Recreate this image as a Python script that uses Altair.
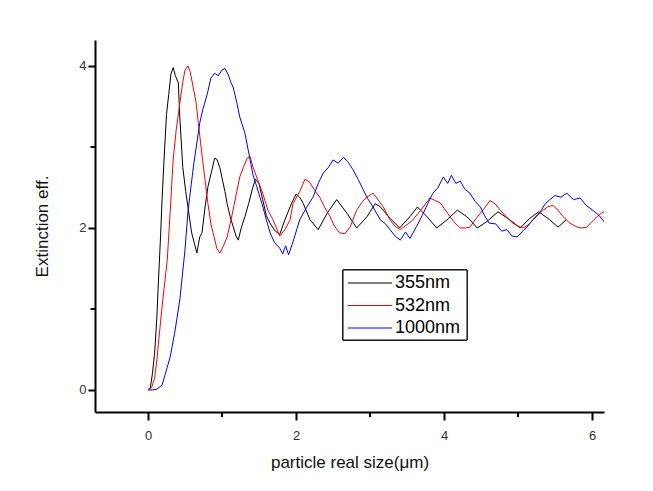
import altair as alt
import pandas as pd

# ---- data ----
x_355 = [0.0, 0.03, 0.06, 0.09, 0.12, 0.14, 0.17, 0.19, 0.22, 0.25, 0.28, 0.31, 0.34, 0.37, 0.41, 0.43,
         0.47, 0.51, 0.54, 0.59, 0.63, 0.66, 0.70, 0.73, 0.77, 0.81, 0.86, 0.90, 0.93, 0.97, 1.00, 1.04,
         1.07, 1.11, 1.15, 1.19, 1.22, 1.26, 1.31, 1.36, 1.41, 1.45, 1.50, 1.55, 1.60, 1.65, 1.71, 1.78,
         1.85, 1.92, 2.00, 2.05, 2.10, 2.19, 2.30, 2.42, 2.55, 2.69, 2.82, 2.96, 3.07, 3.14, 3.27, 3.40,
         3.54, 3.64, 3.77, 3.90, 4.04, 4.18, 4.31, 4.45, 4.58, 4.73, 4.89, 5.03, 5.16, 5.28, 5.43, 5.54, 5.65]
y_355 = [0.0, 0.02, 0.20, 0.46, 0.90, 1.32, 1.90, 2.35, 2.90, 3.40, 3.65, 3.90, 3.98, 3.88, 3.79, 3.37,
         2.75, 2.45, 2.26, 1.94, 1.80, 1.69, 1.89, 1.94, 2.25, 2.51, 2.70, 2.86, 2.85, 2.75, 2.62, 2.45,
         2.30, 2.14, 2.02, 1.90, 1.85, 2.00, 2.14, 2.30, 2.48, 2.60, 2.55, 2.35, 2.15, 2.06, 1.97, 1.92,
         2.10, 2.26, 2.42, 2.38, 2.30, 2.10, 1.98, 2.18, 2.35, 2.18, 2.00, 2.14, 2.30, 2.26, 2.12, 2.00,
         2.14, 2.26, 2.14, 2.00, 2.10, 2.22, 2.14, 2.00, 2.08, 2.20, 2.10, 2.00, 2.12, 2.20, 2.10, 2.01, 2.10]

x_532 = [0.0, 0.05, 0.09, 0.12, 0.16, 0.20, 0.26, 0.30, 0.34, 0.38, 0.43, 0.47, 0.50, 0.54, 0.57, 0.61,
         0.65, 0.68, 0.74, 0.77, 0.81, 0.85, 0.88, 0.93, 0.97, 1.02, 1.07, 1.11, 1.15, 1.20, 1.24, 1.29,
         1.34, 1.38, 1.42, 1.48, 1.55, 1.62, 1.69, 1.78, 1.85, 1.92, 1.96, 2.05, 2.12, 2.18, 2.25, 2.32,
         2.39, 2.46, 2.52, 2.59, 2.66, 2.73, 2.82, 2.90, 2.96, 3.04, 3.10, 3.18, 3.27, 3.34, 3.41, 3.50,
         3.58, 3.65, 3.72, 3.81, 3.88, 3.95, 4.02, 4.08, 4.15, 4.22, 4.29, 4.35, 4.42, 4.49, 4.56, 4.62,
         4.69, 4.76, 4.85, 4.93, 5.00, 5.07, 5.14, 5.20, 5.27, 5.34, 5.40, 5.47, 5.54, 5.61, 5.70, 5.80,
         5.86, 5.93, 6.00, 6.07, 6.15, 6.20]
y_532 = [0.0, 0.03, 0.15, 0.37, 0.75, 1.11, 1.60, 2.20, 2.84, 3.20, 3.54, 3.80, 3.95, 4.00, 3.93, 3.74,
         3.55, 3.30, 2.82, 2.60, 2.30, 2.05, 1.94, 1.75, 1.69, 1.78, 1.89, 2.05, 2.22, 2.45, 2.63, 2.75,
         2.86, 2.88, 2.75, 2.60, 2.43, 2.22, 2.10, 1.90, 1.98, 2.10, 2.30, 2.45, 2.60, 2.57, 2.47, 2.38,
         2.25, 2.14, 2.02, 1.94, 1.93, 2.01, 2.22, 2.33, 2.38, 2.43, 2.36, 2.26, 2.10, 2.02, 1.98, 2.04,
         2.10, 2.18, 2.26, 2.37, 2.34, 2.31, 2.22, 2.14, 2.06, 2.00, 2.00, 2.01, 2.10, 2.18, 2.26, 2.34,
         2.30, 2.22, 2.13, 2.06, 2.02, 2.00, 2.04, 2.10, 2.16, 2.22, 2.26, 2.28, 2.22, 2.14, 2.06, 2.01,
         2.00, 2.01, 2.08, 2.14, 2.20, 2.18]

x_1000 = [0.0, 0.06, 0.12, 0.19, 0.26, 0.30, 0.36, 0.43, 0.50, 0.54, 0.57, 0.62, 0.66, 0.70, 0.74, 0.80,
          0.85, 0.90, 0.95, 1.00, 1.04, 1.08, 1.12, 1.15, 1.20, 1.24, 1.31, 1.38, 1.42, 1.47, 1.54, 1.60,
          1.65, 1.71, 1.78, 1.82, 1.86, 1.90, 1.95, 2.00, 2.05, 2.14, 2.23, 2.30, 2.37, 2.44, 2.50, 2.57,
          2.64, 2.70, 2.77, 2.84, 2.91, 2.97, 3.04, 3.14, 3.21, 3.27, 3.34, 3.41, 3.48, 3.54, 3.63, 3.72,
          3.78, 3.85, 3.92, 3.99, 4.05, 4.10, 4.16, 4.22, 4.28, 4.35, 4.42, 4.49, 4.55, 4.61, 4.70, 4.78,
          4.85, 4.92, 4.99, 5.05, 5.12, 5.20, 5.30, 5.37, 5.43, 5.50, 5.58, 5.66, 5.75, 5.84, 5.92, 6.01,
          6.10, 6.18]
y_1000 = [0.0, 0.00, 0.01, 0.06, 0.28, 0.41, 0.70, 1.11, 1.73, 2.20, 2.43, 2.80, 3.05, 3.30, 3.46, 3.65,
          3.85, 3.91, 3.88, 3.95, 3.97, 3.90, 3.80, 3.74, 3.55, 3.37, 3.17, 2.84, 2.65, 2.51, 2.30, 2.10,
          1.94, 1.82, 1.75, 1.68, 1.78, 1.67, 1.80, 1.95, 2.10, 2.25, 2.38, 2.55, 2.68, 2.75, 2.84, 2.80,
          2.87, 2.82, 2.72, 2.60, 2.47, 2.36, 2.26, 2.10, 2.05, 1.98, 1.90, 1.85, 1.95, 1.87, 2.02, 2.18,
          2.30, 2.43, 2.50, 2.63, 2.55, 2.65, 2.55, 2.58, 2.48, 2.43, 2.33, 2.26, 2.15, 2.06, 2.05, 1.96,
          1.98, 1.90, 1.89, 1.95, 2.01, 2.10, 2.20, 2.30, 2.35, 2.40, 2.38, 2.43, 2.35, 2.37, 2.28, 2.22,
          2.15, 2.06]

series_names = ["355nm", "532nm", "1000nm"]
series_colors = ["#000000", "#ff0000", "#0000ff"]
x_major = [0, 2, 4, 6]
x_minor = [1, 3, 5]
y_major = [0, 2, 4]
y_minor = [1, 3]

rows = []
for name, xs, ys in [("355nm", x_355, y_355), ("532nm", x_532, y_532), ("1000nm", x_1000, y_1000)]:
    for i, (a, b) in enumerate(zip(xs, ys)):
        rows.append({"size": a, "eff": b, "series": name, "idx": i})
df = pd.DataFrame(rows)
legend_df = pd.DataFrame({"series": series_names})

FONT = "Liberation Sans"
xscale = alt.Scale(domain=[-0.716, 6.162], nice=False, zero=False)
yscale = alt.Scale(domain=[-0.272, 4.321], nice=False, zero=False)
cscale = alt.Scale(domain=series_names, range=series_colors)
xaxis = alt.Axis(values=x_major, format="d", title="particle real size(\u03bcm)",
                 tickSize=8, labelPadding=9, titlePadding=12)
yaxis = alt.Axis(values=y_major, format="d", title="Extinction eff.",
                 tickSize=7, labelPadding=2, titlePadding=27)

lines = alt.Chart(df).mark_line(strokeWidth=1, clip=True).encode(
    x=alt.X("size:Q", scale=xscale, axis=xaxis),
    y=alt.Y("eff:Q", scale=yscale, axis=yaxis),
    color=alt.Color("series:N", scale=cscale, legend=None),
    order="idx:Q",
)

minor_x = alt.Chart(pd.DataFrame({"size": x_minor})).mark_rule(color="black", strokeWidth=2).encode(
    x=alt.X("size:Q", scale=xscale, axis=xaxis), y=alt.value(372), y2=alt.value(377))
minor_y = alt.Chart(pd.DataFrame({"eff": y_minor})).mark_rule(color="black", strokeWidth=2).encode(
    y=alt.Y("eff:Q", scale=yscale, axis=None), x=alt.value(0), x2=alt.value(-4.5))

# legend box (top-left at plot coords 248,230)
leg_row = alt.Scale(type="point", domain=series_names, range=[243, 288], padding=0)
leg_box = alt.Chart(legend_df).mark_rect(fill="white", stroke="black", strokeWidth=1).encode(
    x=alt.value(248), x2=alt.value(372), y=alt.value(230), y2=alt.value(300))
leg_lines = alt.Chart(legend_df).mark_rule(strokeWidth=1).encode(
    x=alt.value(253), x2=alt.value(297),
    y=alt.Y("series:N", scale=leg_row, axis=None),
    color=alt.Color("series:N", scale=cscale, legend=None))
leg_text = alt.Chart(legend_df).mark_text(align="left", baseline="middle", fontSize=18,
                                          font=FONT, color="black").encode(
    x=alt.value(300),
    y=alt.Y("series:N", scale=leg_row, axis=None),
    text="series:N")

chart = alt.layer(lines, minor_x, minor_y, leg_box, leg_lines, leg_text).resolve_scale(
    y="independent"
).properties(
    width=509, height=372,
    autosize=alt.AutoSizeParams(type="none"),
    padding={"left": 95, "top": 40, "right": 49, "bottom": 79},
).configure_view(stroke=None).configure_axis(
    grid=False, domainColor="black", domainWidth=2, tickColor="black", tickWidth=2,
    labelFont=FONT, labelFontSize=13, labelColor="#333333",
    titleFont=FONT, titleFontSize=17, titleFontWeight="normal", titleColor="#111111",
)

chart.save("out.html", embed_options={"renderer": "svg", "actions": False})
